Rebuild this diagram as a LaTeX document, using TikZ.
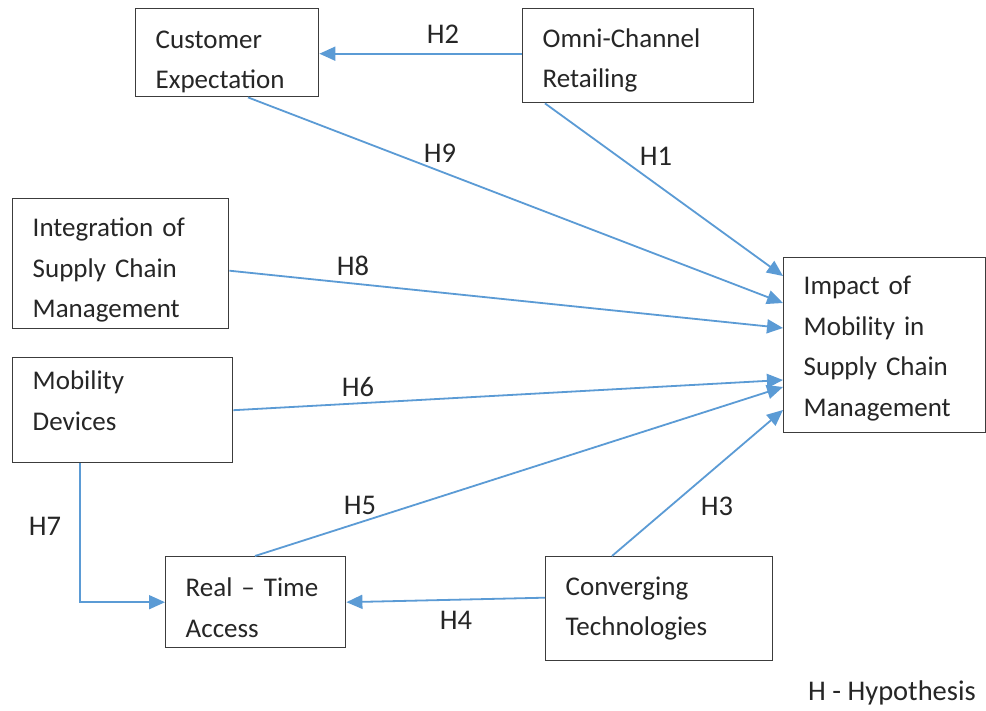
\documentclass[tikz,border=0pt]{standalone}
\usepackage{fontspec}
\setmainfont{Carlito}
\usetikzlibrary{arrows.meta}
\definecolor{arr}{RGB}{91,155,213}
\definecolor{txt}{RGB}{38,38,38}
\tikzset{
  box/.style={draw=txt!90, line width=1.4pt, anchor=north west, align=left,
    inner xsep=20pt, inner ysep=0pt, text=txt,
    font=\fontsize{27}{40.5}\selectfont},
  conn/.style={draw=arr, line width=1.8pt, -{Triangle[length=16pt,width=14pt]}},
  hlab/.style={text=txt, font=\fontsize{28.5}{32}\selectfont}
}
\begin{document}
\begin{tikzpicture}[x=1pt,y=-1pt]
\useasboundingbox[fill=white] (0,0) rectangle (986,711);
\node[box, minimum width=183pt, minimum height=88pt, text width=143pt] (ce) at (135,8) {\rule{0pt}{36pt}Customer\\Expectation};
\node[box, minimum width=231pt, minimum height=94pt, text width=191pt] (oc) at (522,8) {\rule{0pt}{28pt}Omni-Channel\\Retailing};
\node[box, minimum width=216pt, minimum height=130pt, text width=176pt] (isc) at (12,198) {\rule{0pt}{32pt}Integration of\\Supply Chain\\Management};
\node[box, minimum width=202pt, minimum height=175pt, text width=162pt] (im) at (783,257) {\rule{0pt}{25pt}Impact of\\Mobility in\\Supply Chain\\Management};
\node[box, minimum width=220pt, minimum height=105pt, text width=180pt] (md) at (12,357) {Mobility\\Devices\rule[-19pt]{0pt}{0pt}};
\node[box, minimum width=180pt, minimum height=91pt, text width=140pt] (rt) at (165,556) {\rule{0pt}{30pt}Real -- Time\\Access};
\node[box, minimum width=227pt, minimum height=104pt, text width=187pt] (ct) at (545,556) {Converging\\Technologies};

\draw[conn] ([yshift=2pt]oc.west) -- ([yshift=2pt]oc.west -| ce.east);
\draw[conn] ([xshift=23pt]oc.south west) -- ([yshift=-19pt]im.north west);
\draw[conn] ([xshift=113pt]ce.south west) -- ([yshift=-46pt]im.north west);
\draw[conn] ([yshift=-7pt]isc.east) -- ([yshift=-71pt]im.north west);
\draw[conn] (md.east) -- ([yshift=-123pt]im.north west);
\draw[conn] ([xshift=90pt]rt.north west) -- ([yshift=-130pt]im.north west);
\draw[conn] ([xshift=67pt]ct.north west) -- ([yshift=-153pt]im.north west);
\draw[conn] ([yshift=11pt]ct.west) -- (rt.east);
\draw[conn] ([xshift=68pt]md.south west) |- (rt.west);

\node[hlab] (h2) at (443,34) {H2};
\node[hlab] (h9) at (440,153) {H9};
\node[hlab] (h1) at (656,156) {H1};
\node[hlab] (h8) at (353,266) {H8};
\node[hlab] (h6) at (358,387) {H6};
\node[hlab] (h5) at (360,505) {H5};
\node[hlab] (h3) at (717,506) {H3};
\node[hlab] (h4) at (456,620) {H4};
\node[hlab] (h7) at (45,526) {H7};
\node[hlab] (hyp) at (892,693) {H - Hypothesis};
\end{tikzpicture}
\end{document}
